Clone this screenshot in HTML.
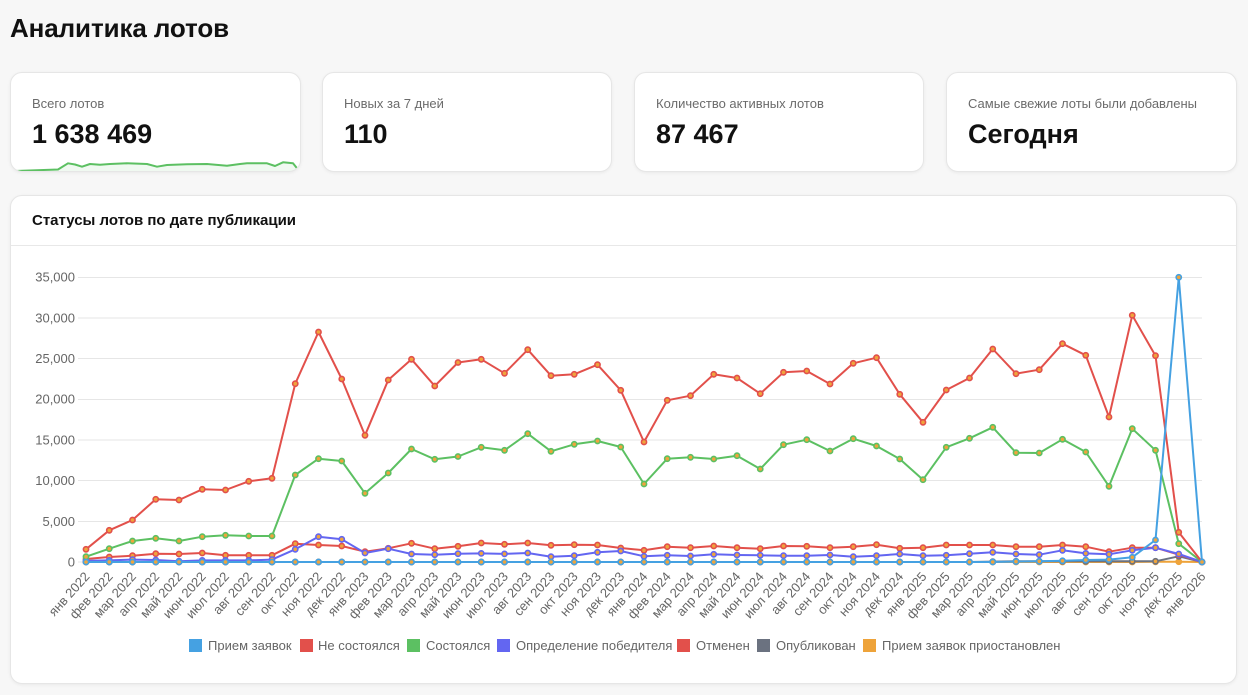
<!DOCTYPE html>
<html lang="ru">
<head>
<meta charset="utf-8">
<style>
  html,body{margin:0;padding:0;}
  body{width:1248px;height:695px;background:#f7f7f7;position:relative;overflow:hidden;
       font-family:"Liberation Sans","Noto Sans CJK SC",sans-serif;color:#111;}
  .title{position:absolute;left:10px;top:13px;font-size:26px;line-height:30px;font-weight:bold;letter-spacing:-0.1px;color:#111;}
  .card{position:absolute;top:72px;height:100px;width:290px;background:#fff;border:1px solid #e6e6e6;border-radius:12px;
        box-shadow:0 1px 3px rgba(0,0,0,0.06);overflow:hidden;box-sizing:border-box;}
  .lbl{position:absolute;left:21px;top:23px;font-size:13px;line-height:16px;color:#6b6b6b;}
  .val{position:absolute;left:21px;top:45px;font-size:27px;line-height:32px;font-weight:bold;color:#111;}
  .chart{position:absolute;left:10px;top:195px;width:1227px;height:489px;background:#fff;border:1px solid #e6e6e6;
         border-radius:12px;box-shadow:0 1px 3px rgba(0,0,0,0.06);box-sizing:border-box;}
  .chart .hd{position:absolute;left:0;top:0;right:0;height:49px;border-bottom:1px solid #e8e8e8;}
  .chart .ht{position:absolute;left:21px;top:16px;font-size:15px;line-height:18px;font-weight:bold;color:#111;}
  svg{position:absolute;left:0;top:0;}
  svg text{font-family:"Liberation Sans","Noto Sans CJK SC",sans-serif;fill:#666;}
</style>
</head>
<body>
<div class="title">Аналитика лотов</div>

<div class="card" style="left:10px;width:291px;">
  <div class="lbl">Всего лотов</div>
  <div class="val">1 638 469</div>
  <svg width="291" height="100" viewBox="10 72 291 100" style="left:-1px;top:-1px;">
    <path d="M15,171 L58,169.5 L68,163.3 L75,164.5 L82,166.7 L90,164 L100,164.7 L110,164 L127,163.3 L147,164 L157,166.7 L167,165 L187,164.3 L207,164 L227,165.7 L240,164 L247,163.3 L267,163.3 L275,166 L283,162.3 L293,163.3 L297,168.3 L299,172 L299,175 L15,175 Z" fill="rgba(92,192,98,0.09)" stroke="none"/>
    <polyline points="15,171 58,169.5 68,163.3 75,164.5 82,166.7 90,164 100,164.7 110,164 127,163.3 147,164 157,166.7 167,165 187,164.3 207,164 227,165.7 240,164 247,163.3 267,163.3 275,166 283,162.3 293,163.3 297,168.3 299,172" fill="none" stroke="#5cc062" stroke-width="2" stroke-linejoin="round"/>
  </svg>
</div>
<div class="card" style="left:322px;">
  <div class="lbl">Новых за 7 дней</div>
  <div class="val">110</div>
</div>
<div class="card" style="left:634px;">
  <div class="lbl">Количество активных лотов</div>
  <div class="val">87 467</div>
</div>
<div class="card" style="left:946px;width:291px;">
  <div class="lbl">Самые свежие лоты были добавлены</div>
  <div class="val">Сегодня</div>
</div>

<div class="chart">
  <div class="hd"><div class="ht">Статусы лотов по дате публикации</div></div>
</div>

<svg width="1248" height="695" viewBox="0 0 1248 695">
  <defs>
    <marker id="mB" markerUnits="userSpaceOnUse" markerWidth="10" markerHeight="10" viewBox="0 0 10 10" refX="5" refY="5"><circle cx="5" cy="5" r="2.6" fill="#efa43c" stroke="#45a1e2" stroke-width="1.6"/></marker>
    <marker id="mR" markerUnits="userSpaceOnUse" markerWidth="10" markerHeight="10" viewBox="0 0 10 10" refX="5" refY="5"><circle cx="5" cy="5" r="2.6" fill="#efa43c" stroke="#e2504b" stroke-width="1.6"/></marker>
    <marker id="mG" markerUnits="userSpaceOnUse" markerWidth="10" markerHeight="10" viewBox="0 0 10 10" refX="5" refY="5"><circle cx="5" cy="5" r="2.6" fill="#efa43c" stroke="#5cc062" stroke-width="1.6"/></marker>
    <marker id="mP" markerUnits="userSpaceOnUse" markerWidth="10" markerHeight="10" viewBox="0 0 10 10" refX="5" refY="5"><circle cx="5" cy="5" r="2.6" fill="#efa43c" stroke="#6366f1" stroke-width="1.6"/></marker>
    <marker id="mY" markerUnits="userSpaceOnUse" markerWidth="10" markerHeight="10" viewBox="0 0 10 10" refX="5" refY="5"><circle cx="5" cy="5" r="2.6" fill="#efa43c" stroke="#6b7280" stroke-width="1.6"/></marker>
    <marker id="mO" markerUnits="userSpaceOnUse" markerWidth="10" markerHeight="10" viewBox="0 0 10 10" refX="5" refY="5"><circle cx="5" cy="5" r="2.6" fill="#efa43c" stroke="#eea33a" stroke-width="1.6"/></marker>
  </defs>

  <g stroke="#e6e6e6" stroke-width="1">
    <line x1="78" y1="277.5" x2="1202" y2="277.5"/>
    <line x1="78" y1="318" x2="1202" y2="318"/>
    <line x1="78" y1="358.5" x2="1202" y2="358.5"/>
    <line x1="78" y1="399.5" x2="1202" y2="399.5"/>
    <line x1="78" y1="440" x2="1202" y2="440"/>
    <line x1="78" y1="480.5" x2="1202" y2="480.5"/>
    <line x1="78" y1="521.5" x2="1202" y2="521.5"/>
    <line x1="78" y1="562" x2="1202" y2="562"/>
  </g>

  <g font-size="13" text-anchor="end" dominant-baseline="central">
    <text x="75" y="277">35,000</text>
    <text x="75" y="318">30,000</text>
    <text x="75" y="358.5">25,000</text>
    <text x="75" y="399">20,000</text>
    <text x="75" y="440">15,000</text>
    <text x="75" y="480.5">10,000</text>
    <text x="75" y="521.5">5,000</text>
    <text x="75" y="562">0</text>
  </g>

  <g fill="none" stroke-width="2" stroke-linejoin="round">
    <polyline stroke="#eea33a" marker-start="url(#mO)" marker-mid="url(#mO)" marker-end="url(#mO)"
      points="86,562 109.25,562 132.5,562 155.75,562 179,562 202.25,562 225.5,562 248.75,562 272,562 295.25,562 318.5,562 341.75,562 365,562 388.25,562 411.5,562 434.75,562 458,562 481.25,562 504.5,562 527.75,562 551,562 574.25,562 597.5,562 620.75,562 644,562 667.25,562 690.5,562 713.75,562 737,562 760.25,562 783.5,562 806.75,562 830,562 853.25,562 876.5,562 899.75,562 923,562 946.25,562 969.5,562 992.75,562 1016,562 1039.25,562 1062.5,562 1085.75,562 1109,562 1132.25,562 1155.5,561.8 1178.75,561.7 1202,562"/>
    <polyline stroke="#6b7280" marker-start="url(#mY)" marker-mid="url(#mY)" marker-end="url(#mY)"
      points="86,562 109.25,562 132.5,562 155.75,562 179,562 202.25,562 225.5,562 248.75,562 272,562 295.25,562 318.5,562 341.75,562 365,562 388.25,562 411.5,562 434.75,562 458,562 481.25,562 504.5,562 527.75,562 551,562 574.25,562 597.5,562 620.75,562 644,562 667.25,562 690.5,562 713.75,562 737,562 760.25,562 783.5,562 806.75,562 830,562 853.25,562 876.5,562 899.75,562 923,562 946.25,562 969.5,562 992.75,561.6 1016,561.3 1039.25,561.3 1062.5,561.3 1085.75,561.3 1109,561.3 1132.25,561.3 1155.5,561.3 1178.75,556.3 1202,562"/>
    <polyline stroke="#e2504b" marker-start="url(#mR)" marker-mid="url(#mR)" marker-end="url(#mR)"
      points="86,559 109.25,557 132.5,555.7 155.75,553.7 179,554 202.25,553 225.5,555.3 248.75,555.3 272,555.3 295.25,543.7 318.5,545 341.75,546 365,551.7 388.25,548.3 411.5,543.3 434.75,548.7 458,546.3 481.25,543 504.5,544.3 527.75,543 551,545.3 574.25,544.7 597.5,545 620.75,548 644,550.3 667.25,546.7 690.5,547.7 713.75,546 737,547.7 760.25,548.7 783.5,546 806.75,546.3 830,547.7 853.25,546.7 876.5,544.7 899.75,548.3 923,547.7 946.25,545 969.5,545 992.75,545 1016,546.7 1039.25,546.7 1062.5,545 1085.75,546.7 1109,551.7 1132.25,547.7 1155.5,547.7 1178.75,554.7 1202,562"/>
    <polyline stroke="#6366f1" marker-start="url(#mP)" marker-mid="url(#mP)" marker-end="url(#mP)"
      points="86,560.8 109.25,560.4 132.5,559.6 155.75,560 179,561.2 202.25,560.4 225.5,560.4 248.75,560.4 272,559.6 295.25,549.3 318.5,536.7 341.75,539.3 365,553 388.25,548.7 411.5,554 434.75,554.7 458,553.7 481.25,553.4 504.5,553.9 527.75,553 551,556.7 574.25,555.7 597.5,552.3 620.75,551 644,556.3 667.25,555.3 690.5,556 713.75,554.3 737,555 760.25,555.3 783.5,555.7 806.75,555.7 830,555 853.25,556.7 876.5,555.7 899.75,554 923,555.7 946.25,555.3 969.5,553.7 992.75,552.3 1016,554 1039.25,554.7 1062.5,550.3 1085.75,553.4 1109,554.3 1132.25,550.3 1155.5,547.7 1178.75,554 1202,562"/>
    <polyline stroke="#5cc062" marker-start="url(#mG)" marker-mid="url(#mG)" marker-end="url(#mG)"
      points="86,556.7 109.25,548.7 132.5,541 155.75,538.3 179,541 202.25,536.7 225.5,535.3 248.75,536 272,536 295.25,475 318.5,458.7 341.75,461 365,493.3 388.25,473 411.5,449 434.75,459.3 458,456.5 481.25,447.3 504.5,450.3 527.75,433.7 551,451.3 574.25,444.3 597.5,441 620.75,447 644,484 667.25,458.7 690.5,457.3 713.75,459 737,455.7 760.25,469 783.5,444.7 806.75,439.7 830,451 853.25,438.7 876.5,446 899.75,459 923,479.7 946.25,447.3 969.5,438.3 992.75,427.3 1016,452.7 1039.25,453 1062.5,439.3 1085.75,452 1109,486.3 1132.25,428.7 1155.5,450.3 1178.75,543.7 1202,562"/>
    <polyline stroke="#e2504b" marker-start="url(#mR)" marker-mid="url(#mR)" marker-end="url(#mR)"
      points="86,549.3 109.25,530.3 132.5,520 155.75,499.3 179,500 202.25,489.3 225.5,490 248.75,481.3 272,478.3 295.25,383.7 318.5,332 341.75,379 365,435.3 388.25,380 411.5,359.3 434.75,386 458,362.5 481.25,359.3 504.5,373.3 527.75,349.7 551,375.7 574.25,374.3 597.5,364.7 620.75,390.3 644,442 667.25,400.3 690.5,395.7 713.75,374.3 737,378 760.25,393.7 783.5,372.3 806.75,371 830,384 853.25,363.3 876.5,357.7 899.75,394.3 923,422.3 946.25,390 969.5,378 992.75,349 1016,373.7 1039.25,369.7 1062.5,343.7 1085.75,355.3 1109,417 1132.25,315.3 1155.5,355.7 1178.75,532.3 1202,562"/>
    <polyline stroke="#45a1e2" marker-start="url(#mB)" marker-mid="url(#mB)" marker-end="url(#mB)"
      points="86,562 109.25,562 132.5,562 155.75,562 179,562 202.25,562 225.5,562 248.75,562 272,562 295.25,562 318.5,562 341.75,562 365,562 388.25,562 411.5,562 434.75,562 458,562 481.25,562 504.5,562 527.75,562 551,562 574.25,562 597.5,562 620.75,562 644,562 667.25,562 690.5,562 713.75,562 737,562 760.25,562 783.5,562 806.75,562 830,562 853.25,562 876.5,562 899.75,562 923,562 946.25,562 969.5,562 992.75,562 1016,561.6 1039.25,561.3 1062.5,560.8 1085.75,560 1109,559.6 1132.25,557.3 1155.5,540 1178.75,277.3 1202,562"/>
  </g>

  <g font-size="13" text-anchor="end" dominant-baseline="central">
    <text transform="translate(87,574) rotate(-48)">янв 2022</text>
    <text transform="translate(110.25,574) rotate(-48)">фев 2022</text>
    <text transform="translate(133.5,574) rotate(-48)">мар 2022</text>
    <text transform="translate(156.75,574) rotate(-48)">апр 2022</text>
    <text transform="translate(180,574) rotate(-48)">май 2022</text>
    <text transform="translate(203.25,574) rotate(-48)">июн 2022</text>
    <text transform="translate(226.5,574) rotate(-48)">июл 2022</text>
    <text transform="translate(249.75,574) rotate(-48)">авг 2022</text>
    <text transform="translate(273,574) rotate(-48)">сен 2022</text>
    <text transform="translate(296.25,574) rotate(-48)">окт 2022</text>
    <text transform="translate(319.5,574) rotate(-48)">ноя 2022</text>
    <text transform="translate(342.75,574) rotate(-48)">дек 2022</text>
    <text transform="translate(366,574) rotate(-48)">янв 2023</text>
    <text transform="translate(389.25,574) rotate(-48)">фев 2023</text>
    <text transform="translate(412.5,574) rotate(-48)">мар 2023</text>
    <text transform="translate(435.75,574) rotate(-48)">апр 2023</text>
    <text transform="translate(459,574) rotate(-48)">май 2023</text>
    <text transform="translate(482.25,574) rotate(-48)">июн 2023</text>
    <text transform="translate(505.5,574) rotate(-48)">июл 2023</text>
    <text transform="translate(528.75,574) rotate(-48)">авг 2023</text>
    <text transform="translate(552,574) rotate(-48)">сен 2023</text>
    <text transform="translate(575.25,574) rotate(-48)">окт 2023</text>
    <text transform="translate(598.5,574) rotate(-48)">ноя 2023</text>
    <text transform="translate(621.75,574) rotate(-48)">дек 2023</text>
    <text transform="translate(645,574) rotate(-48)">янв 2024</text>
    <text transform="translate(668.25,574) rotate(-48)">фев 2024</text>
    <text transform="translate(691.5,574) rotate(-48)">мар 2024</text>
    <text transform="translate(714.75,574) rotate(-48)">апр 2024</text>
    <text transform="translate(738,574) rotate(-48)">май 2024</text>
    <text transform="translate(761.25,574) rotate(-48)">июн 2024</text>
    <text transform="translate(784.5,574) rotate(-48)">июл 2024</text>
    <text transform="translate(807.75,574) rotate(-48)">авг 2024</text>
    <text transform="translate(831,574) rotate(-48)">сен 2024</text>
    <text transform="translate(854.25,574) rotate(-48)">окт 2024</text>
    <text transform="translate(877.5,574) rotate(-48)">ноя 2024</text>
    <text transform="translate(900.75,574) rotate(-48)">дек 2024</text>
    <text transform="translate(924,574) rotate(-48)">янв 2025</text>
    <text transform="translate(947.25,574) rotate(-48)">фев 2025</text>
    <text transform="translate(970.5,574) rotate(-48)">мар 2025</text>
    <text transform="translate(993.75,574) rotate(-48)">апр 2025</text>
    <text transform="translate(1017,574) rotate(-48)">май 2025</text>
    <text transform="translate(1040.25,574) rotate(-48)">июн 2025</text>
    <text transform="translate(1063.5,574) rotate(-48)">июл 2025</text>
    <text transform="translate(1086.75,574) rotate(-48)">авг 2025</text>
    <text transform="translate(1110,574) rotate(-48)">сен 2025</text>
    <text transform="translate(1133.25,574) rotate(-48)">окт 2025</text>
    <text transform="translate(1156.5,574) rotate(-48)">ноя 2025</text>
    <text transform="translate(1179.75,574) rotate(-48)">дек 2025</text>
    <text transform="translate(1203,574) rotate(-48)">янв 2026</text>
  </g>

  <g font-size="13" dominant-baseline="central">
    <rect x="189" y="639" width="13" height="13" fill="#45a1e2"/><text x="208" y="645.5">Прием заявок</text>
    <rect x="300" y="639" width="13" height="13" fill="#e2504b"/><text x="318" y="645.5">Не состоялся</text>
    <rect x="407" y="639" width="13" height="13" fill="#5cc062"/><text x="426" y="645.5">Состоялся</text>
    <rect x="497" y="639" width="13" height="13" fill="#6366f1"/><text x="516" y="645.5">Определение победителя</text>
    <rect x="677" y="639" width="13" height="13" fill="#e2504b"/><text x="696" y="645.5">Отменен</text>
    <rect x="757" y="639" width="13" height="13" fill="#6b7280"/><text x="776" y="645.5">Опубликован</text>
    <rect x="863" y="639" width="13" height="13" fill="#eea33a"/><text x="882" y="645.5">Прием заявок приостановлен</text>
  </g>
</svg>
</body>
</html>
